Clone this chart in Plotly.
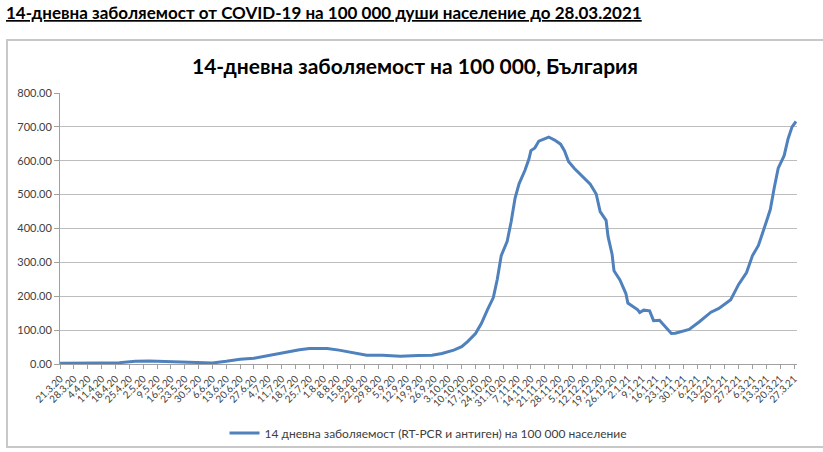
import plotly.graph_objects as go

# Series: 14-day incidence per 100 000
dates = [
    "2020-03-21", "2020-03-28", "2020-04-03", "2020-04-10", "2020-04-20", "2020-04-28",
    "2020-05-05", "2020-05-14", "2020-05-24", "2020-05-31", "2020-06-06", "2020-06-13",
    "2020-06-20", "2020-06-27", "2020-07-05", "2020-07-12", "2020-07-20", "2020-07-25",
    "2020-08-03", "2020-08-09", "2020-08-16", "2020-08-23", "2020-08-31", "2020-09-09",
    "2020-09-18", "2020-09-25", "2020-09-30", "2020-10-06", "2020-10-10", "2020-10-13",
    "2020-10-17", "2020-10-20", "2020-10-23", "2020-10-26", "2020-10-28", "2020-10-30",
    "2020-11-02", "2020-11-04", "2020-11-06", "2020-11-08", "2020-11-11", "2020-11-13",
    "2020-11-14", "2020-11-16", "2020-11-18", "2020-11-21", "2020-11-23", "2020-11-26",
    "2020-11-29", "2020-12-01", "2020-12-03", "2020-12-06", "2020-12-08", "2020-12-14",
    "2020-12-17", "2020-12-19", "2020-12-22", "2020-12-23", "2020-12-25", "2020-12-26",
    "2020-12-29", "2021-01-01", "2021-01-02", "2021-01-07", "2021-01-08", "2021-01-10",
    "2021-01-13", "2021-01-15", "2021-01-18", "2021-01-20", "2021-01-23", "2021-01-24",
    "2021-01-26", "2021-02-02", "2021-02-07", "2021-02-13", "2021-02-17", "2021-02-23",
    "2021-02-27", "2021-03-03", "2021-03-06", "2021-03-09", "2021-03-13", "2021-03-15",
    "2021-03-17", "2021-03-19", "2021-03-22", "2021-03-24", "2021-03-26", "2021-03-28",
]
values = [
    2, 3, 4, 3, 4, 8,
    9, 7, 5, 3, 3, 8,
    14, 17, 26, 35, 42, 46,
    46, 41, 33, 26, 26, 23,
    25, 26, 31, 41, 51, 66,
    90, 120, 160, 196, 250, 320,
    362, 420, 490, 532, 572, 605,
    630, 638, 658, 664, 670, 661,
    649, 629, 598, 577, 565, 531,
    502, 450, 424, 376, 325, 275,
    248, 208, 180, 160, 152, 159,
    157, 128, 129, 116, 95, 90,
    91, 102, 124, 153, 164, 190,
    235, 270, 320, 350, 420, 456,
    520, 578, 615, 665, 700, 716,
]

tick_dates = [
    "2020-03-21", "2020-03-28", "2020-04-04", "2020-04-11", "2020-04-18", "2020-04-25",
    "2020-05-02", "2020-05-09", "2020-05-16", "2020-05-23", "2020-05-30", "2020-06-06",
    "2020-06-13", "2020-06-20", "2020-06-27", "2020-07-04", "2020-07-11", "2020-07-18",
    "2020-07-25", "2020-08-01", "2020-08-08", "2020-08-15", "2020-08-22", "2020-08-29",
    "2020-09-05", "2020-09-12", "2020-09-19", "2020-09-26", "2020-10-03", "2020-10-10",
    "2020-10-17", "2020-10-24", "2020-10-31", "2020-11-07", "2020-11-14", "2020-11-21",
    "2020-11-28", "2020-12-05", "2020-12-12", "2020-12-19", "2020-12-26", "2021-01-02",
    "2021-01-09", "2021-01-16", "2021-01-23", "2021-01-30", "2021-02-06", "2021-02-13",
    "2021-02-20", "2021-02-27", "2021-03-06", "2021-03-13", "2021-03-20", "2021-03-27",
]
tick_labels = [
    "21.3.20", "28.3.20", "4.4.20", "11.4.20", "18.4.20", "25.4.20",
    "2.5.20", "9.5.20", "16.5.20", "23.5.20", "30.5.20", "6.6.20",
    "13.6.20", "20.6.20", "27.6.20", "4.7.20", "11.7.20", "18.7.20",
    "25.7.20", "1.8.20", "8.8.20", "15.8.20", "22.8.20", "29.8.20",
    "5.9.20", "12.9.20", "19.9.20", "26.9.20", "3.10.20", "10.10.20",
    "17.10.20", "24.10.20", "31.10.20", "7.11.20", "14.11.20", "21.11.20",
    "28.11.20", "5.12.20", "12.12.20", "19.12.20", "26.12.20", "2.1.21",
    "9.1.21", "16.1.21", "23.1.21", "30.1.21", "6.2.21", "13.2.21",
    "20.2.21", "27.2.21", "6.3.21", "13.3.21", "20.3.21", "27.3.21",
]
y_ticks = [0, 100, 200, 300, 400, 500, 600, 700, 800]

page_title = "14-дневна заболяемост от COVID-19 на 100 000 души население до 28.03.2021"
chart_title = "14-дневна заболяемост на 100 000, България"
series_name = "14 дневна заболяемост (RT-PCR и антиген) на 100 000 население"

W, H = 823, 452
L, R, T, B = 60, 26, 93, 88
pw, ph = W - L - R, H - T - B

def px_x(x):
    return (x - L) / pw

def px_y(y):
    return (H - B - y) / ph

FONT = "Lato"

fig = go.Figure()
fig.add_trace(go.Scatter(
    x=dates, y=values, mode="lines", name=series_name,
    line=dict(color="#4f81bd", width=3),
))

fig.update_layout(
    width=W, height=H,
    margin=dict(l=L, r=R, t=T, b=B, autoexpand=False),
    paper_bgcolor="white", plot_bgcolor="white",
    font=dict(family=FONT, color="#404040", size=10),
    showlegend=True,
    legend=dict(orientation="h", x=0.5, xanchor="center", y=px_y(433), yanchor="middle",
                font=dict(family=FONT, size=12, color="#404040"),
                bgcolor="rgba(0,0,0,0)", itemwidth=30),
    xaxis=dict(
        type="date", automargin=False,
        range=["2020-03-20T23:00", "2021-03-28T12:00"],
        tickmode="array", tickvals=tick_dates, ticktext=tick_labels,
        tickangle=-45, tickfont=dict(family=FONT, size=10, color="#404040"),
        ticks="outside", ticklen=4, tickcolor="#a0a0a0",
        showline=True, linecolor="#a0a0a0", linewidth=1,
        showgrid=False, zeroline=False,
    ),
    yaxis=dict(
        automargin=False,
        range=[0, 800], tickmode="array", tickvals=y_ticks,
        tickformat=".2f",
        tickfont=dict(family=FONT, size=11, color="#404040"),
        ticks="outside", ticklen=5, tickcolor="#a0a0a0",
        showline=True, linecolor="#a0a0a0", linewidth=1,
        showgrid=True, gridcolor="#bdbdbd", gridwidth=1,
        zeroline=False,
    ),
    annotations=[
        dict(text="<u><b>" + page_title + "</b></u>", xref="paper", yref="paper",
             x=px_x(4), y=px_y(12), xanchor="left", yanchor="middle", showarrow=False,
             font=dict(family=FONT, size=17, color="#000000")),
        dict(text="<b>" + chart_title + "</b>", xref="paper", yref="paper",
             x=px_x(415), y=px_y(65), xanchor="center", yanchor="middle", showarrow=False,
             font=dict(family=FONT, size=21, color="#000000")),
    ],
    shapes=[
        dict(type="rect", xref="paper", yref="paper",
             x0=px_x(7), x1=px_x(840), y0=px_y(447), y1=px_y(40),
             line=dict(color="#c8c8c8", width=2), fillcolor="rgba(0,0,0,0)", layer="below"),
    ],
)

fig.write_html("out.html")
